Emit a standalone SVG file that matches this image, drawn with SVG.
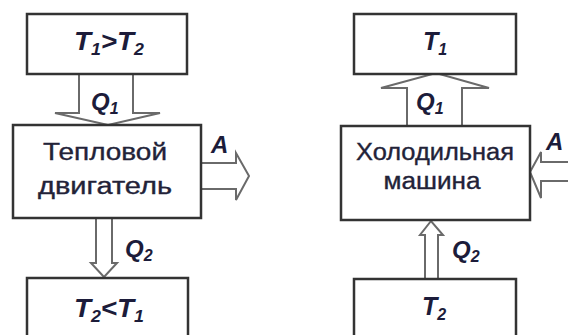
<svg xmlns="http://www.w3.org/2000/svg" width="568" height="335" viewBox="0 0 568 335">
<style>
.box{fill:#fff;stroke:#333;stroke-width:2.5}
.arr{fill:#fff;stroke:#6a6a6a;stroke-width:2;stroke-linejoin:miter}
.math{font-family:"Liberation Sans",Arial,sans-serif;font-weight:bold;font-style:italic;fill:#1c1c3a}
.lbl{font-family:"Liberation Sans",Arial,sans-serif;font-size:23px;fill:#222238;stroke:#222238;stroke-width:0.35;text-anchor:middle}
.sub{font-size:16px}
</style>
<rect width="568" height="335" fill="#fff"/>
<g id="connectors">
<polygon class="arr" points="79,74 79,113 55,113 108,125 160,113 133,113 133,74"/>
<polygon class="arr" points="201,163 236,163 236,153 249,176 236,200 236,189 201,189"/>
<polygon class="arr" points="96,218 96,263 91,263 104,277 117,263 112,263 112,218"/>
<polygon class="arr" points="407,126 407,88 381,88 436,73 489,88 462,88 462,126"/>
<polygon class="arr" points="570,162 541,162 541,152 530,172 541,198 541,181 570,181"/>
<polygon class="arr" points="425,279 425,235 420,235 431,221 443,235 438,235 438,279"/>
<text class="math" x="91" y="110" font-size="24">Q<tspan class="sub" dy="4">1</tspan></text>
<text class="math" x="211" y="153" font-size="24">A</text>
<text class="math" x="125" y="257" font-size="24">Q<tspan class="sub" dy="4">2</tspan></text>
<text class="math" x="416" y="110" font-size="24">Q<tspan class="sub" dy="4">1</tspan></text>
<text class="math" x="546" y="150" font-size="24">A</text>
<text class="math" x="452" y="258" font-size="24">Q<tspan class="sub" dy="4">2</tspan></text>
</g>
<g id="hot-left">
<rect class="box" x="27" y="14" width="160" height="60"/>
<text class="math" x="74" y="50" font-size="25" textLength="70" lengthAdjust="spacingAndGlyphs">T<tspan class="sub" dy="5">1</tspan><tspan dy="-5">&gt;T</tspan><tspan class="sub" dy="5">2</tspan></text>
</g>
<g id="engine">
<rect class="box" x="13" y="125" width="188" height="93"/>
<text class="lbl" x="105" y="160" textLength="124" lengthAdjust="spacingAndGlyphs">Тепловой</text>
<text class="lbl" x="105" y="194" textLength="134" lengthAdjust="spacingAndGlyphs">двигатель</text>
</g>
<g id="cold-left">
<rect class="box" x="27" y="278" width="161" height="70"/>
<text class="math" x="74" y="317" font-size="25" textLength="70" lengthAdjust="spacingAndGlyphs">T<tspan class="sub" dy="5">2</tspan><tspan dy="-5">&lt;T</tspan><tspan class="sub" dy="5">1</tspan></text>
</g>
<g id="hot-right">
<rect class="box" x="354" y="14" width="162" height="60"/>
<text class="math" x="423" y="50" font-size="25">T<tspan class="sub" dy="5">1</tspan></text>
</g>
<g id="fridge">
<rect class="box" x="341" y="126" width="189" height="94"/>
<text class="lbl" x="435" y="160" textLength="158" lengthAdjust="spacingAndGlyphs">Холодильная</text>
<text class="lbl" x="432" y="189" textLength="97" lengthAdjust="spacingAndGlyphs">машина</text>
</g>
<g id="cold-right">
<rect class="box" x="354" y="279" width="162" height="70"/>
<text class="math" x="422" y="315" font-size="25">T<tspan class="sub" dy="5">2</tspan></text>
</g>
</svg>
